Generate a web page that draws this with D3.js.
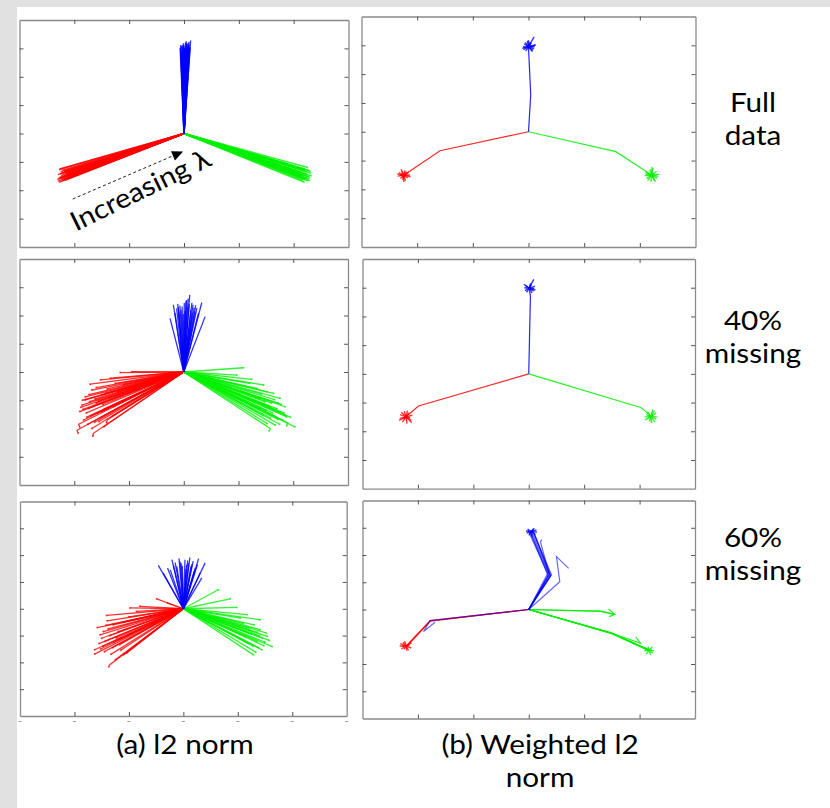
<!DOCTYPE html>
<html>
<head>
<meta charset="utf-8">
<script src="https://cdn.jsdelivr.net/npm/d3@7"></script>
<style>
  body { margin: 0; background: #fff; }
  svg { display: block; }
  text { font-family: Lato, "Open Sans", sans-serif; fill: #000; }
</style>
</head>
<body>
<div id="canvas"></div>
<script>
// axis ticks (unlabelled, MATLAB style box)
const xTicks = [-3, -2, -1, 0, 1, 2, 3];
const yTicks = [-4, -3, -2, -1, 0, 1, 2, 3, 4];

const rowLabels = [["Full", "data"], ["40%", "missing"], ["60%", "missing"]];
const colLabels = [["(a) l2 norm"], ["(b) Weighted l2", "norm"]];
const annotation = "Increasing \u03bb";
const arrowFrom = [-2.03, -2.31];
const arrowTo = [-0.05, -0.66];
const annotationAt = [-1.97, -3.46];

// ---- (a) l2 norm: path end points (x, y [, hook x, hook y]) ----
const fullL2Red = [[-2.28,-1.28],[-2.25,-1.35],[-2.30,-1.45],[-2.22,-1.40],[-2.27,-1.55],[-2.18,-1.50],
  [-2.30,-1.68],[-2.20,-1.62],[-2.12,-1.45],[-2.25,-1.60],[-2.15,-1.38],[-2.28,-1.72],[-2.08,-1.55],
  [-2.22,-1.30],[-2.17,-1.65],[-2.24,-1.48],[-2.26,-1.42],[-2.19,-1.33],[-2.29,-1.58],[-2.14,-1.60],
  [-2.23,-1.66],[-2.10,-1.50],[-2.27,-1.25],[-2.20,-1.55],[-2.31,-1.62],[-2.16,-1.43]];
const fullL2Green = [[2.20,-1.25],[2.28,-1.30],[2.32,-1.40],[2.25,-1.45],[2.30,-1.55],[2.18,-1.50],
  [2.22,-1.62],[2.15,-1.38],[2.27,-1.68],[2.12,-1.55],[2.33,-1.50],[2.24,-1.35],[2.20,-1.72],
  [2.29,-1.60],[2.16,-1.45],[2.26,-1.20],[2.23,-1.42],[2.31,-1.33],[2.19,-1.58],[2.14,-1.50],
  [2.27,-1.52],[2.21,-1.28],[2.30,-1.66],[2.17,-1.65],[2.25,-1.58],[2.13,-1.44]];
const fullL2Blue = [[-0.06,2.95],[-0.03,3.05],[0.00,3.10],[0.03,3.20],[0.06,3.00],[0.09,3.12],
  [0.12,3.28],[-0.07,3.02],[0.02,2.98],[0.05,3.15],[-0.04,3.08],[0.08,2.92],[0.11,3.05],
  [0.00,2.90],[0.04,3.25],[-0.02,3.12],[0.07,3.18],[0.10,3.00],[0.01,3.02],[-0.05,2.88],
  [0.06,3.08],[0.09,3.22],[-0.01,3.18],[0.03,2.95],[0.08,3.05],[-0.06,3.12]];

const miss40L2Red = [[-1.16,-0.02],[-0.95,0.01],[-1.71,-0.43],[-1.52,-0.28],[-1.80,-0.88],[-1.86,-1.17],
  [-1.95,-2.06,-1.93,-2.16],[-1.65,-2.17,-1.66,-2.27],[-1.46,-1.94],[-1.83,-1.70],[-1.74,-1.29],
  [-1.68,-0.64],[-1.34,-0.22],[-1.58,-1.46],[-1.80,-0.99],[-1.40,-1.70,-1.41,-1.80],[-1.28,-1.23],
  [-1.60,-1.10],[-1.50,-0.80],[-1.70,-1.55],[-1.90,-1.40],[-1.45,-1.30],[-1.62,-0.95],[-1.75,-1.85],
  [-1.55,-1.75],[-1.30,-1.55],[-1.85,-1.00],[-1.40,-0.60],[-1.25,-0.40],[-1.68,-2.00],[-1.52,-1.62],
  [-1.78,-1.45],[-1.60,-0.55],[-1.88,-1.25],[-1.72,-1.05],[-1.48,-1.15],[-1.35,-0.90],[-1.20,-0.70],
  [-1.10,-0.45],[-1.92,-1.85,-1.90,-1.95],[-1.66,-1.22],[-1.77,-1.60],[-1.56,-1.02],[-1.43,-0.75],
  [-1.84,-1.32],[-1.63,-1.78],[-1.50,-1.40],[-1.73,-0.80]];
const miss40L2Green = [[1.09,0.15],[1.24,-0.26],[1.46,-0.46],[1.64,-0.76],[1.76,-0.93],[1.85,-1.23],
  [2.03,-1.94],[1.88,-1.59],[1.76,-1.41],[1.58,-2.00,1.56,-2.08],[1.67,-1.88],[1.52,-1.82],[1.34,-0.58],
  [1.73,-1.11],[1.40,-0.93],[0.97,-0.11],[1.55,-1.20],[1.62,-1.45],[1.80,-1.70],[1.70,-1.30],
  [1.48,-1.05],[1.90,-1.80,1.88,-1.90],[1.58,-1.62],[1.45,-1.55],[1.78,-1.15],[1.66,-0.98],
  [1.95,-1.60],[1.38,-1.30],[1.20,-0.40],[1.52,-0.70],[1.83,-1.45],[1.72,-1.68],[1.60,-1.10],
  [1.85,-1.52],[1.68,-1.58],[1.50,-1.35],[1.75,-1.85],[1.42,-0.78]];
const miss40L2Blue = [[0.11,2.73],[0.05,2.55],[-0.19,2.38],[-0.11,2.41],[0.33,2.46],[-0.25,1.90],
  [0.39,1.96],[-0.03,2.32],[0.17,2.38],[0.24,2.26],[-0.09,2.14],[0.27,2.08],[-0.16,2.09],[0.01,2.44],
  [0.21,2.14],[0.06,2.30],[-0.05,2.20],[0.13,2.20],[0.08,2.60],[-0.13,2.25],[0.15,2.45],[0.02,2.15],
  [-0.07,2.35],[0.19,2.28],[0.10,2.40],[-0.01,2.05],[0.16,2.10],[-0.10,2.30],[0.04,2.50],[0.22,2.36]];

const miss60L2Red = [[-0.49,0.37],[-0.29,0.21],[-0.80,0.09],[-0.98,0.03],[-1.41,-0.25],[-1.47,-0.85],
  [-1.63,-1.53],[-1.63,-1.69],[-1.35,-2.09,-1.37,-2.16],[-1.10,-1.72],[-1.44,-1.22],[-1.29,-0.60],
  [-1.17,-1.34],[-0.86,-0.10],[-1.53,-0.97],[-1.23,-1.09],[-1.04,-1.65],[-1.38,-0.75],[-1.50,-1.10],
  [-1.20,-0.85],[-1.30,-1.45],[-1.45,-1.60],[-1.10,-0.50],[-1.55,-1.30],[-1.25,-1.90],[-1.00,-0.30],
  [-1.40,-0.45],[-1.58,-0.70],[-1.15,-1.55],[-1.35,-1.00],[-1.48,-1.40],[-1.28,-1.25],[-1.42,-0.62],
  [-1.18,-1.15],[-1.52,-1.50],[-1.33,-1.70]];
const miss60L2Green = [[0.64,0.71],[0.86,0.37],[0.98,0.05],[1.17,-0.22],[1.41,-0.41],[1.54,-1.03],
  [1.63,-1.41],[1.29,-1.72],[1.44,-1.53],[1.35,-1.22],[1.20,-0.72],[1.41,-0.78],[1.25,-0.95],
  [1.50,-1.25],[1.10,-0.55],[1.38,-1.45],[1.20,-1.30],[1.30,-0.60],[1.52,-0.90],[1.05,-0.35],
  [1.45,-1.10],[1.15,-1.05],[1.33,-1.62],[1.58,-1.18],[1.28,-1.40],[1.40,-1.00],[1.24,-0.82],
  [1.48,-1.38],[1.36,-0.88]];
const miss60L2Blue = [[-0.46,1.62],[-0.21,1.83],[-0.06,1.76],[0.12,1.91],[0.28,1.87],[0.40,1.71],
  [-0.29,1.52],[0.22,1.52],[0.03,1.83],[-0.12,1.58],[0.31,1.33],[-0.37,1.33],[0.06,1.64],[0.34,1.15],
  [0.10,1.70],[-0.02,1.60],[0.18,1.78],[-0.15,1.72],[0.05,1.48],[0.20,1.40],[-0.08,1.88],[0.14,1.58],
  [0.26,1.65],[-0.24,1.45],[0.08,1.80],[-0.04,1.70],[0.16,1.66],[-0.18,1.62]];

// ---- (b) weighted l2 norm: shared tracks, hub of the end star, star points ----
const fullWRedPaths = [[[0,0],[-1.59,-0.66],[-2.24,-1.51]]];
const fullWRedHub = [-2.24,-1.51];
const fullWRedStar = [[-2.33,-1.42],[-2.30,-1.62],[-2.17,-1.60],[-2.15,-1.40],[-2.28,-1.36],[-2.21,-1.70],
  [-2.35,-1.54],[-2.13,-1.50],[-2.26,-1.68],[-2.22,-1.34],[-2.31,-1.50],[-2.18,-1.46],[-2.36,-1.46],
  [-2.12,-1.56],[-2.24,-1.74],[-2.29,-1.30],[-2.19,-1.38],[-2.27,-1.58]];
const fullWGreenPaths = [[[0,0],[1.57,-0.69],[2.21,-1.50]]];
const fullWGreenHub = [2.21,-1.50];
const fullWGreenStar = [[2.10,-1.40],[2.30,-1.38],[2.33,-1.55],[2.27,-1.70],[2.12,-1.62],[2.20,-1.74],
  [2.24,-1.26],[2.15,-1.48],[2.31,-1.62],[2.09,-1.52],[2.26,-1.44],[2.18,-1.30],[2.35,-1.48],
  [2.10,-1.46],[2.22,-1.22],[2.28,-1.74],[2.14,-1.70],[2.25,-1.56]];
const fullWBluePaths = [[[0,0],[0.04,1.28],[0.00,2.92]]];
const fullWBlueHub = [0.00,2.95];
const fullWBlueStar = [[-0.09,2.85],[0.10,2.88],[0.12,3.00],[-0.08,3.05],[0.03,3.12],[0.10,3.29],
  [-0.05,2.80],[0.07,2.78],[-0.10,2.95],[0.05,3.08],[0.11,2.95],[-0.02,3.15],[-0.11,2.90],
  [0.13,3.02],[-0.06,3.10],[0.08,2.82],[0.00,3.18]];

const miss40WRedPaths = [[[0,0],[-1.99,-1.12],[-2.14,-1.37],[-2.21,-1.50]]];
const miss40WRedHub = [-2.21,-1.50];
const miss40WRedStar = [[-2.32,-1.42],[-2.28,-1.68],[-2.12,-1.62],[-2.10,-1.44],[-2.25,-1.30],
  [-2.20,-1.74],[-2.33,-1.55],[-2.16,-1.35],[-2.26,-1.58],[-2.14,-1.52],[-2.30,-1.34],[-2.11,-1.70],
  [-2.34,-1.62],[-2.19,-1.28]];
const miss40WGreenPaths = [[[0,0],[2.02,-1.17],[2.10,-1.29],[2.20,-1.49]]];
const miss40WGreenHub = [2.20,-1.49];
const miss40WGreenStar = [[2.12,-1.42],[2.30,-1.36],[2.30,-1.58],[2.22,-1.72],[2.10,-1.60],[2.27,-1.28],
  [2.16,-1.52],[2.25,-1.45],[2.32,-1.50],[2.18,-1.66],[2.14,-1.32],[2.28,-1.68],[2.09,-1.50],[2.24,-1.24]];
const miss40WBluePaths = [[[0,0],[0.03,2.69],[0.01,2.98]]];
const miss40WBlueHub = [0.01,2.98];
const miss40WBlueStar = [[-0.07,2.90],[0.09,2.88],[0.11,3.05],[-0.06,3.08],[0.03,3.15],[0.09,3.29],
  [-0.04,2.84],[0.06,2.82],[0.10,2.97],[-0.08,3.00],[0.12,2.92],[-0.09,3.12],[0.05,3.12]];

const miss60WRedPaths = [[[0,0],[-1.78,-0.41],[-2.21,-1.34]],[[0,0],[-1.78,-0.43],[-2.19,-1.32]]];
const miss60WRedHub = [-2.21,-1.34];
const miss60WRedStar = [[-2.32,-1.25],[-2.30,-1.45],[-2.12,-1.42],[-2.11,-1.22],[-2.24,-1.16],
  [-2.20,-1.51],[-2.29,-1.36],[-2.15,-1.30],[-2.25,-1.46],[-2.33,-1.34],[-2.17,-1.50],[-2.27,-1.20]];
const miss60WGreenPaths = [[[0,0],[1.30,-0.06],[1.55,-0.18],[1.44,0.02]],
  [[0,0],[1.30,-0.07],[1.55,-0.18],[1.45,-0.26]],
  [[0,0],[1.50,-0.87],[2.17,-1.49]],[[0,0],[1.48,-0.85],[2.15,-1.46]],[[0,0],[1.52,-0.90],[2.19,-1.52]],
  [[0,0],[1.49,-0.88],[2.16,-1.50]],[[0,0],[1.50,-0.87],[2.02,-1.24],[1.93,-1.00]]];
const miss60WGreenHub = [2.17,-1.49];
const miss60WGreenStar = [[2.09,-1.40],[2.23,-1.38],[2.24,-1.60],[2.12,-1.64],[2.20,-1.67],[2.08,-1.52],
  [2.22,-1.48],[2.15,-1.36],[2.26,-1.52],[2.11,-1.45]];
const miss60WBluePaths = [[[0,0],[-1.78,-0.41],[-1.90,-0.81],[-1.69,-0.47]],
  [[0,0],[0.38,1.27],[0.05,2.86]],[[0,0],[0.36,1.30],[0.02,2.88]],[[0,0],[0.40,1.25],[0.08,2.84]],
  [[0,0],[0.34,1.32],[-0.01,2.90]],[[0,0],[0.39,1.22],[0.10,2.80]],[[0,0],[0.41,1.28],[0.07,2.90]],
  [[0,0],[0.35,1.24],[0.03,2.82]],[[0,0],[0.37,1.28],[0.21,2.49],[0.24,2.56]],
  [[0,0],[0.56,1.02],[0.50,1.94],[0.72,1.51]]];
const miss60WBlueHub = [0.05,2.86];
const miss60WBlueStar = [[-0.04,2.80],[0.14,2.92],[0.10,2.98],[-0.02,2.95],[0.06,2.67],[0.12,2.75],
  [0.00,2.72],[0.08,2.96],[-0.05,2.88],[0.15,2.84]];

const RED = "#ff0000", GREEN = "#00f000", BLUE = "#0000ff";

const svg = d3.select("#canvas").append("svg")
  .attr("width", 830).attr("height", 808);

// grey page border
svg.append("rect").attr("width", 830).attr("height", 808).attr("fill", "#e1e1e1");
svg.append("rect").attr("x", 17).attr("y", 7).attr("width", 813).attr("height", 801).attr("fill", "#fff");

function makePanel(box) {
  const x = d3.scaleLinear().domain(d3.extent(xTicks)).range([box.x0, box.x1]);
  const y = d3.scaleLinear().domain(d3.extent(yTicks)).range([box.y1, box.y0]);
  const g = svg.append("g");
  const xi = xTicks.slice(1, -1), yi = yTicks.slice(1, -1);
  g.append("g").attr("transform", `translate(0,${box.y1})`)
    .call(d3.axisBottom(x).tickValues(xi).tickSizeInner(-4).tickSizeOuter(0).tickFormat(""));
  g.append("g").attr("transform", `translate(0,${box.y0})`)
    .call(d3.axisTop(x).tickValues(xi).tickSizeInner(-4).tickSizeOuter(0).tickFormat(""));
  g.append("g").attr("transform", `translate(${box.x0},0)`)
    .call(d3.axisLeft(y).tickValues(yi).tickSizeInner(-4).tickSizeOuter(0).tickFormat(""));
  g.append("g").attr("transform", `translate(${box.x1},0)`)
    .call(d3.axisRight(y).tickValues(yi).tickSizeInner(-4).tickSizeOuter(0).tickFormat(""));
  g.selectAll(".domain").attr("stroke", "#8a8a8a").attr("stroke-width", 1.3);
  g.selectAll(".tick line").attr("stroke", "#555");
  const line = d3.line().x(d => x(d[0])).y(d => y(d[1]));
  return { x, y, g, line };
}

// straight paths from the centroid to each point, as in the l2 fusion plot
function fan(p, pts, color, width) {
  const lay = p.g.append("g");
  lay.selectAll("path").data(pts).join("path")
    .attr("d", d => p.line(d.length > 2 ? [[0, 0], [d[0], d[1]], [d[2], d[3]]] : [[0, 0], d]))
    .attr("fill", "none").attr("stroke", color).attr("stroke-width", width || 1.3)
    .attr("stroke-opacity", 0.8);
  return lay;
}

function dots(lay, p, pts, color) {
  lay.selectAll("circle").data(pts).join("circle")
    .attr("cx", d => p.x(d.length > 2 ? d[2] : d[0]))
    .attr("cy", d => p.y(d.length > 2 ? d[3] : d[1]))
    .attr("r", 1).attr("fill", color).attr("opacity", 0.7);
}

function weighted(p, paths, hub, star, color, opacity) {
  const lay = p.g.append("g");
  lay.selectAll("path.trk").data(paths).join("path").attr("class", "trk")
    .attr("d", p.line)
    .attr("fill", "none").attr("stroke", color).attr("stroke-width", 1.2)
    .attr("stroke-opacity", opacity || 0.85);
  lay.selectAll("path.star").data(star).join("path").attr("class", "star")
    .attr("d", d => p.line([hub, d]))
    .attr("fill", "none").attr("stroke", color).attr("stroke-width", 1.4).attr("stroke-opacity", 0.8);
}

const boxes = [
  { x0: 19.5, x1: 348.5, y0: 20, y1: 247 },
  { x0: 361.5, x1: 695.5, y0: 16.5, y1: 247 },
  { x0: 19.5, x1: 348, y0: 259, y1: 485 },
  { x0: 362.5, x1: 695, y0: 259, y1: 488.7 },
  { x0: 20, x1: 346.7, y0: 501.5, y1: 716 },
  { x0: 362.5, x1: 695, y0: 500.5, y1: 718.5 }
];
const P = boxes.map(makePanel);

// Row 1 (a)
fan(P[0], fullL2Red, RED, 1.5);
fan(P[0], fullL2Green, GREEN, 1.5);
fan(P[0], fullL2Blue, BLUE, 1.5);

// annotation arrow
P[0].g.append("path")
  .attr("d", P[0].line([arrowFrom, arrowTo]))
  .attr("stroke", "#222").attr("stroke-width", 1).attr("stroke-dasharray", "3,2.5").attr("fill", "none");
{
  const tx = P[0].x(arrowTo[0]), ty = P[0].y(arrowTo[1]);
  const ang = Math.atan2(ty - P[0].y(arrowFrom[1]), tx - P[0].x(arrowFrom[0])) * 180 / Math.PI;
  P[0].g.append("path").attr("d", "M2,0 L-9,-5 L-9,5 Z").attr("fill", "#000")
    .attr("transform", `translate(${tx},${ty}) rotate(${ang})`);
  P[0].g.append("text")
    .attr("transform", `translate(${P[0].x(annotationAt[0])},${P[0].y(annotationAt[1])}) rotate(-26) scale(1.08,1)`)
    .attr("font-size", 27).text(annotation);
}

// Row 1 (b)
weighted(P[1], fullWRedPaths, fullWRedHub, fullWRedStar, RED);
weighted(P[1], fullWGreenPaths, fullWGreenHub, fullWGreenStar, GREEN);
weighted(P[1], fullWBluePaths, fullWBlueHub, fullWBlueStar, BLUE);

// Row 2 (a)
dots(fan(P[2], miss40L2Red, RED), P[2], miss40L2Red, RED);
dots(fan(P[2], miss40L2Green, GREEN), P[2], miss40L2Green, GREEN);
fan(P[2], miss40L2Blue, BLUE);

// Row 2 (b)
weighted(P[3], miss40WRedPaths, miss40WRedHub, miss40WRedStar, RED);
weighted(P[3], miss40WGreenPaths, miss40WGreenHub, miss40WGreenStar, GREEN);
weighted(P[3], miss40WBluePaths, miss40WBlueHub, miss40WBlueStar, BLUE);

// Row 3 (a)
dots(fan(P[4], miss60L2Red, RED), P[4], miss60L2Red, RED);
dots(fan(P[4], miss60L2Green, GREEN), P[4], miss60L2Green, GREEN);
fan(P[4], miss60L2Blue, BLUE);

// Row 3 (b)
weighted(P[5], miss60WRedPaths, miss60WRedHub, miss60WRedStar, RED);
weighted(P[5], miss60WGreenPaths, miss60WGreenHub, miss60WGreenStar, GREEN);
weighted(P[5], miss60WBluePaths, miss60WBlueHub, miss60WBlueStar, BLUE, 0.6);

// clipped tick labels under the last (a) panel
svg.append("g").selectAll("line").data(xTicks).join("line")
  .attr("x1", d => P[4].x(d) - 1.5).attr("x2", d => P[4].x(d) + 1.5)
  .attr("y1", 721.5).attr("y2", 721.5)
  .attr("stroke", "#9a9a9a").attr("stroke-width", 1);

// row labels
const rowY = [[112, 145], [330, 363], [547, 580]];
rowLabels.forEach((lines, i) => {
  lines.forEach((t, j) => {
    svg.append("text").attr("transform", `translate(753,${rowY[i][j]}) scale(1.1,1)`)
      .attr("text-anchor", "middle").attr("font-size", 27).text(t);
  });
});

// column labels
const colX = [185, 540];
colLabels.forEach((lines, i) => {
  lines.forEach((t, j) => {
    svg.append("text").attr("transform", `translate(${colX[i]},${754 + j * 33}) scale(1.1,1)`)
      .attr("text-anchor", "middle").attr("font-size", 27).text(t);
  });
});
</script>
</body>
</html>
